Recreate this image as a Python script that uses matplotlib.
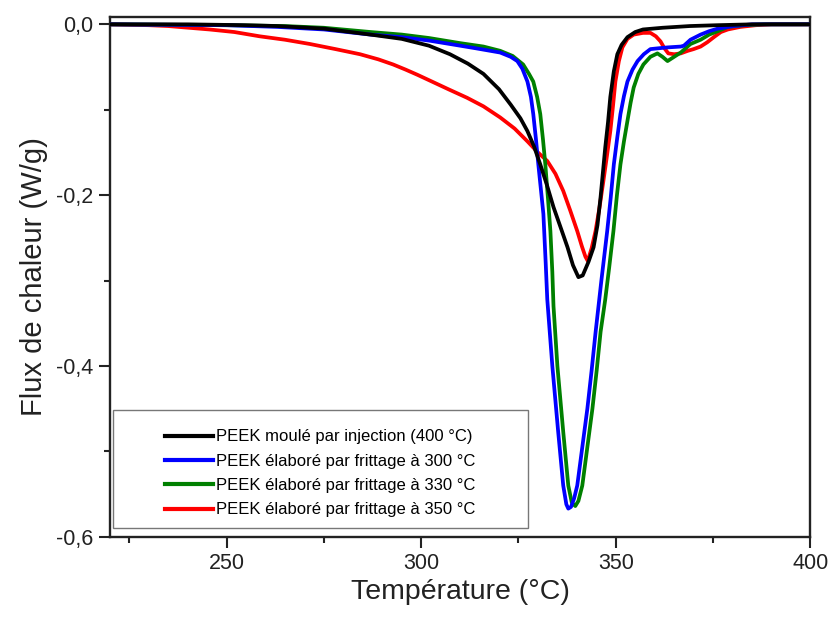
import matplotlib
matplotlib.use('Agg')
import matplotlib.pyplot as plt
import matplotlib.ticker as ticker
from matplotlib.patches import Rectangle

# Courbes DSC (temperature en °C, flux en W/g)
temp_injection = [220, 240, 255, 263, 275, 287, 295, 302, 307.4, 312, 316, 320, 323, 325.5, 327.3, 329,
                  330.6, 332.3, 334, 336, 337.6, 339, 340.4, 341.5, 343, 344.3, 345.3, 346.1, 347.3, 348,
                  348.6, 349.5, 350.4, 351.5, 353, 355, 357, 362, 369, 376, 385, 400]
flux_injection = [0, 0, -0.001, -0.002, -0.005, -0.012, -0.017, -0.025, -0.035, -0.046, -0.058, -0.076,
                  -0.094, -0.110, -0.125, -0.143, -0.164, -0.188, -0.214, -0.240, -0.261, -0.282, -0.296,
                  -0.294, -0.278, -0.261, -0.235, -0.202, -0.144, -0.115, -0.085, -0.055, -0.035, -0.024,
                  -0.015, -0.009, -0.006, -0.004, -0.002, -0.001, 0, 0]

temp_300 = [220, 250, 263, 275, 287, 295, 302, 307.4, 314, 320.3, 323, 324.7, 326, 327.3, 328.2, 328.8,
            329.5, 330.1, 330.8, 331.4, 332, 332.4, 333.7, 335.2, 336.5, 337.3, 337.8, 338.5, 339.3,
            340.1, 341.4, 342.7, 343.8, 344.8, 346.3, 347.8, 348.7, 349.5, 350.4, 351.2, 352.1, 353,
            354.3, 355.6, 357.2, 358.9, 361, 363.3, 366.7, 367.5, 369.2, 371.8, 374, 376.2, 380.3, 385, 400]
flux_300 = [0, -0.001, -0.003, -0.006, -0.012, -0.015, -0.019, -0.023, -0.028, -0.033, -0.038, -0.043,
            -0.052, -0.067, -0.085, -0.105, -0.135, -0.164, -0.195, -0.222, -0.280, -0.322, -0.400,
            -0.477, -0.540, -0.562, -0.567, -0.565, -0.555, -0.540, -0.495, -0.450, -0.405, -0.361,
            -0.300, -0.242, -0.203, -0.164, -0.132, -0.105, -0.084, -0.067, -0.053, -0.043, -0.035,
            -0.029, -0.028, -0.027, -0.026, -0.025, -0.018, -0.012, -0.008, -0.005, -0.002, 0, 0]

temp_330 = [220, 250, 265, 275, 287, 295, 302, 310, 316, 320.3, 323.5, 326.2, 327.7, 328.8, 329.8, 330.6,
            331.3, 331.9, 332.6, 333.2, 333.7, 334, 335, 336.5, 337.8, 338.7, 339.6, 340.4, 341.4,
            342.7, 344, 345.1, 346.1, 347.3, 348.3, 349.4, 350.3, 351.2, 352.1, 353, 353.8, 354.6,
            355.8, 357.1, 358.9, 360.7, 362, 363.3, 365, 366.7, 369.2, 371.8, 374, 376.2, 378.8, 383, 388, 400]
flux_330 = [0, -0.001, -0.002, -0.004, -0.009, -0.012, -0.016, -0.022, -0.026, -0.031, -0.037, -0.047,
            -0.058, -0.067, -0.085, -0.105, -0.135, -0.164, -0.205, -0.242, -0.290, -0.330, -0.400,
            -0.477, -0.540, -0.560, -0.564, -0.558, -0.540, -0.495, -0.450, -0.405, -0.360, -0.322,
            -0.285, -0.242, -0.200, -0.164, -0.137, -0.113, -0.092, -0.074, -0.058, -0.047, -0.038,
            -0.034, -0.038, -0.043, -0.038, -0.033, -0.023, -0.018, -0.012, -0.008, -0.003, -0.001, 0, 0]

temp_350 = [220, 230, 235, 245.6, 252, 258.5, 265, 271.4, 278, 284.3, 289, 292.8, 296, 299, 302.3, 307,
            311.8, 316, 320.3, 324, 327.3, 330, 332.4, 334.5, 336.5, 338.3, 340.1, 341.3, 342.2, 342.8,
            343.8, 344.8, 345.8, 346.8, 347.7, 348.6, 349.3, 349.9, 350.8, 351.7, 353, 354.6, 357,
            358.9, 360.3, 361.5, 362.5, 363.5, 365, 366.7, 368.5, 370, 371.8, 373.5, 375.2, 377, 378.8,
            382, 386, 390, 400]
flux_350 = [0, -0.001, -0.002, -0.006, -0.009, -0.014, -0.018, -0.023, -0.029, -0.035, -0.041, -0.047,
            -0.053, -0.059, -0.066, -0.076, -0.086, -0.096, -0.109, -0.122, -0.137, -0.150, -0.160,
            -0.175, -0.195, -0.218, -0.242, -0.260, -0.272, -0.277, -0.262, -0.242, -0.215, -0.184,
            -0.155, -0.125, -0.095, -0.067, -0.043, -0.027, -0.017, -0.012, -0.010, -0.010, -0.014,
            -0.020, -0.028, -0.034, -0.035, -0.034, -0.031, -0.029, -0.026, -0.021, -0.015, -0.009,
            -0.006, -0.003, -0.001, 0, 0]

labels = ['PEEK moulé par injection (400 °C)',
          'PEEK élaboré par frittage à 300 °C',
          'PEEK élaboré par frittage à 330 °C',
          'PEEK élaboré par frittage à 350 °C']
colors = ['black', '#0000ff', '#008000', '#ff0000']


def virgule(y, pos=None):
    s = '%.1f' % y
    if s == '-0.0':
        s = '0.0'
    return s.replace('.', ',')


def main():
    plt.rcParams['font.family'] = ['Liberation Sans', 'DejaVu Sans']

    fig = plt.figure(figsize=(8.32, 6.17), dpi=100)
    ax = fig.add_axes([0.132, 0.130, 0.842, 0.843])

    series = [(temp_injection, flux_injection), (temp_300, flux_300),
              (temp_330, flux_330), (temp_350, flux_350)]
    # ordre de trace : le noir au dessus
    for idx in [3, 2, 1, 0]:
        t, f = series[idx]
        ax.plot(t, f, color=colors[idx], lw=2.7, label=labels[idx], zorder=3 + (3 - idx),
                solid_joinstyle='round')

    ax.set_xlim(220, 400)
    ax.set_ylim(-0.6, 0.009)

    ax.xaxis.set_major_locator(ticker.MultipleLocator(50))
    ax.xaxis.set_minor_locator(ticker.MultipleLocator(25))
    ax.yaxis.set_major_locator(ticker.MultipleLocator(0.2))
    ax.yaxis.set_minor_locator(ticker.MultipleLocator(0.1))
    ax.yaxis.set_major_formatter(ticker.FuncFormatter(virgule))

    ax.tick_params(which='both', direction='out', width=1.5, top=False, right=False,
                   labelsize=15.5, colors='#222222')
    ax.tick_params(which='major', length=8, pad=4)
    ax.tick_params(which='minor', length=4.5)
    for sp in ax.spines.values():
        sp.set_linewidth(1.7)
        sp.set_color('#222222')

    ax.set_xlabel('Température (°C)', fontsize=20.5, labelpad=3, color='#222222')
    ax.set_ylabel('Flux de chaleur (W/g)', fontsize=21, labelpad=6, color='#222222')

    # cadre de la legende
    ax.add_patch(Rectangle((0.004, 0.017), 0.593, 0.227, transform=ax.transAxes,
                           facecolor='white', edgecolor='#777777', lw=1.0, zorder=8))
    handles, labs = ax.get_legend_handles_labels()
    order = [3, 2, 1, 0]
    leg = ax.legend([handles[i] for i in order], [labs[i] for i in order],
                    loc='center', bbox_to_anchor=(0.3005, 0.122), frameon=False,
                    fontsize=12, handlelength=2.9, handletextpad=0.2, labelspacing=0.56)
    for line in leg.get_lines():
        line.set_linewidth(3.0)
    leg.set_zorder(9)

    plt.savefig('out.png', dpi=100)


if __name__ == '__main__':
    main()
